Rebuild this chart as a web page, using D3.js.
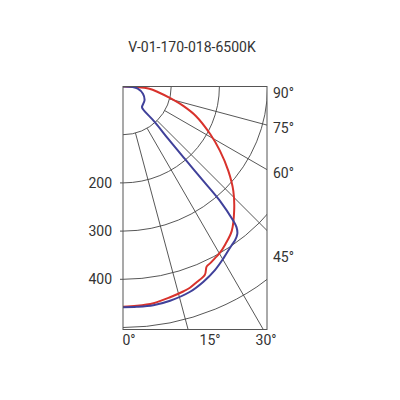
<!DOCTYPE html>
<html><head><meta charset="utf-8">
<script src="https://cdn.jsdelivr.net/npm/d3@7"></script>
<style>
body{margin:0;background:#fff}
svg{display:block}
text{font-family:Roboto,"DejaVu Sans",sans-serif;fill:#333;font-size:14px}
</style>
</head><body>
<svg id="chart" width="400" height="400"></svg>
<script>
// ---- data ----
const titleText = "V-01-170-018-6500K";
const radialTicks = [100, 200, 300, 400, 500];
const radialLabels = [200, 300, 400];
const rayAngles = [15, 30, 45, 60, 75];
const rightLabels = ["90°", "75°", "60°", "45°"];
const bottomLabels = ["0°", "15°", "30°"];

const redAngles = [90, 88, 85, 81, 76, 72, 68, 61.4, 56.5, 51.3, 46.6, 41.8, 37, 33, 30, 28.2, 26.2, 24.9, 23.5, 20.6, 18.4, 16.5, 12.6, 8, 3.6, 0];
const redValues = [0, 30, 55, 73, 102, 133, 163, 206, 241, 280, 315, 346, 375, 390, 400, 404, 409, 412, 426, 434, 440, 443, 448, 454, 456, 457];

const blueAngles = [90, 87, 81.7, 70.2, 57.5, 42.8, 41.3, 41.8, 40.8, 40.5, 40.4, 40.3, 39.4, 38.9, 37.8, 36, 34.4, 30.3, 26.6, 22.4, 18.1, 12.4, 7.9, 3.6, 0];
const blueValues = [0, 20, 31, 44, 53, 58, 63, 99, 143, 197, 257, 311, 360, 375, 387, 395, 399, 413, 426, 438, 448, 455, 458, 458, 458];

// ---- layout ----
const cx = 123, cy = 86.5;
const plotW = 144, plotH = 243;
const svg = d3.select("#chart");
const r = d3.scaleLinear().domain([0, 500]).range([0, 241]);
const toRad = d => (180 - d) * Math.PI / 180;   // 0° points down, 90° points right

svg.append("text").attr("x", 192).attr("y", 52).attr("text-anchor", "middle")
  .text(titleText);

const defs = svg.append("defs");
defs.append("clipPath").attr("id", "clip").append("rect")
  .attr("x", cx).attr("y", cy).attr("width", plotW).attr("height", plotH);

const g = svg.append("g").attr("transform", `translate(${cx},${cy})`);
const grid = g.append("g").attr("clip-path", "url(#clip)")
  .attr("transform", `translate(${-cx},${-cy})`)
  .append("g").attr("transform", `translate(${cx},${cy})`);

grid.selectAll("circle.arc").data(radialTicks).join("circle")
  .attr("class", "arc").attr("r", d => r(d))
  .attr("fill", "none").attr("stroke", "#444").attr("stroke-width", 0.9);

grid.selectAll("line.ray").data(rayAngles).join("line")
  .attr("class", "ray")
  .attr("x1", d => r(100) * Math.sin(toRad(d)))
  .attr("y1", d => -r(100) * Math.cos(toRad(d)))
  .attr("x2", d => r(1000) * Math.sin(toRad(d)))
  .attr("y2", d => -r(1000) * Math.cos(toRad(d)))
  .attr("stroke", "#444").attr("stroke-width", 0.9);

// curves
const line = d3.lineRadial()
  .angle(d => toRad(d[0]))
  .radius(d => r(d[1]))
  .curve(d3.curveCatmullRom.alpha(0.5));

const redData = redAngles.map((a, i) => [a, redValues[i]]);
const blueData = blueAngles.map((a, i) => [a, blueValues[i]]);

grid.append("path").attr("d", line(redData)).attr("fill", "none")
  .attr("stroke", "#d8322c").attr("stroke-width", 2);
grid.append("path").attr("d", line(blueData)).attr("fill", "none")
  .attr("stroke", "#40419a").attr("stroke-width", 2);

// border
g.append("rect").attr("width", plotW).attr("height", plotH)
  .attr("fill", "none").attr("stroke", "#555").attr("stroke-width", 1);

// radial labels + small ticks on left edge
g.selectAll("line.tick").data(radialLabels).join("line")
  .attr("class", "tick").attr("x1", -3).attr("x2", 0)
  .attr("y1", d => r(d)).attr("y2", d => r(d))
  .attr("stroke", "#555");
g.selectAll("text.rl").data(radialLabels).join("text")
  .attr("class", "rl").attr("x", -11).attr("y", d => r(d) + 5)
  .attr("text-anchor", "end").text(d => d);

// angle labels
const rightY = [6, 41, 86, 170];
g.selectAll("text.ar").data(rightLabels).join("text")
  .attr("class", "ar").attr("x", plotW + 6).attr("y", (d, i) => rightY[i] + 5)
  .text(d => d);
const bottomX = [6, 87, 143];
g.selectAll("text.ab").data(bottomLabels).join("text")
  .attr("class", "ab").attr("x", (d, i) => bottomX[i]).attr("y", plotH + 15)
  .attr("text-anchor", "middle").text(d => d);
</script>
</body></html>
